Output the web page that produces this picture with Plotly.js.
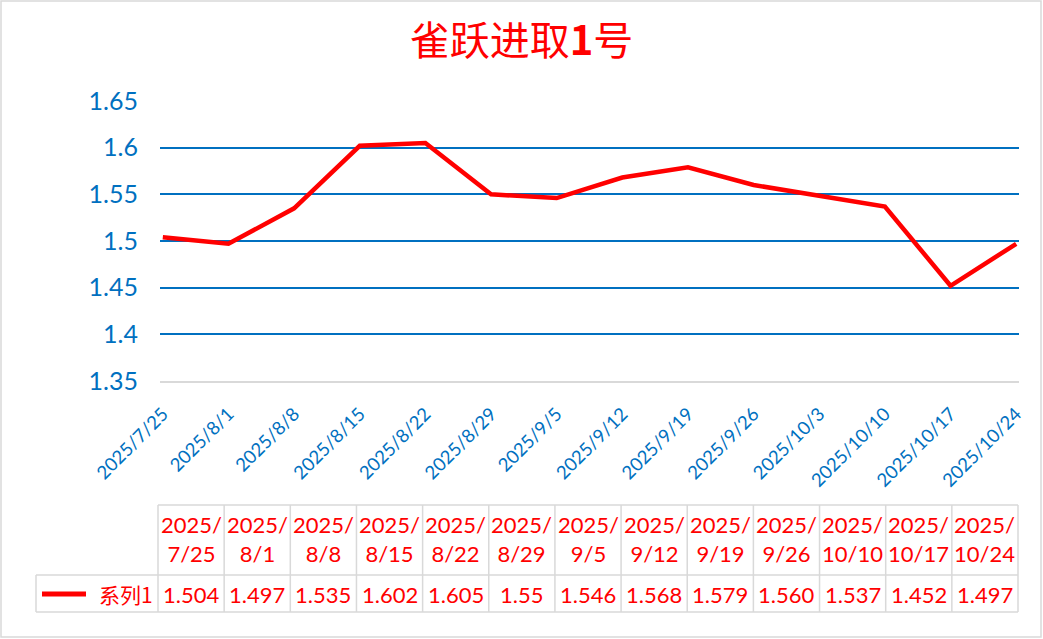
<!DOCTYPE html>
<html>
<head>
<meta charset="utf-8">
<script src="https://cdn.plot.ly/plotly-3.0.1.min.js"></script>
<style>
  html, body { margin: 0; padding: 0; background: #fff; }
  #chart { width: 1043px; height: 639px; }
</style>
</head>
<body>
<div id="chart"></div>
<script>
// ---- data ----
const seriesName = "系列1";
const dates = ["2025-07-25","2025-08-01","2025-08-08","2025-08-15","2025-08-22","2025-08-29","2025-09-05","2025-09-12","2025-09-19","2025-09-26","2025-10-10","2025-10-17","2025-10-24"];
const values = [1.504, 1.497, 1.535, 1.602, 1.605, 1.55, 1.546, 1.568, 1.579, 1.560, 1.537, 1.452, 1.497];
const valueLabels = ["1.504","1.497","1.535","1.602","1.605","1.55","1.546","1.568","1.579","1.560","1.537","1.452","1.497"];
const tickDates = ["2025-07-25","2025-08-01","2025-08-08","2025-08-15","2025-08-22","2025-08-29","2025-09-05","2025-09-12","2025-09-19","2025-09-26","2025-10-03","2025-10-10","2025-10-17","2025-10-24"];
const tickLabels = ["2025/7/25","2025/8/1","2025/8/8","2025/8/15","2025/8/22","2025/8/29","2025/9/5","2025/9/12","2025/9/19","2025/9/26","2025/10/3","2025/10/10","2025/10/17","2025/10/24"];
const yTicks = [1.35, 1.4, 1.45, 1.5, 1.55, 1.6, 1.65];
const yTickText = ["1.35","1.4","1.45","1.5","1.55","1.6","1.65"];

// ---- styles ----
const RED = "#FF0000";
const BLUE = "#0070C0";
const GRAY = "#D9D9D9";
const LATIN = "Lato, 'Noto Sans', sans-serif";
const CJK = "'Noto Sans CJK SC', sans-serif";

const W = 1043, H = 639;
const M = { l: 160, r: 24, t: 101, b: 258 };
const plotW = W - M.l - M.r, plotH = H - M.t - M.b;
// pixel -> paper helpers (layout only)
const px = v => (v - M.l) / plotW;
const py = v => (H - M.b - v) / plotH;

function shiftDay(s, d) {
  const t = new Date(Date.parse(s + "T00:00:00Z") + d * 86400000);
  return t.toISOString().slice(0, 19).replace("T", " ");
}

const trace = {
  type: "scatter",
  mode: "lines",
  x: dates,
  y: values,
  name: seriesName,
  line: { color: RED, width: 4.5 },
  hoverinfo: "x+y",
  showlegend: false
};

// data table geometry
const nCols = dates.length;
const tLeft = 158, tRight = 1018;
const colW = (tRight - tLeft) / nCols;
const colX = i => px(tLeft + i * colW);
const yTop = py(505), yMid = py(575), yBot = py(612);
const yHead = py(539), yVal = py(594);
const legLeft = px(36);

const shapes = [];
const annotations = [];
const border = { color: GRAY, width: 1.5 };
shapes.push({ type: "line", xref: "paper", yref: "paper", x0: colX(0), x1: colX(nCols), y0: yTop, y1: yTop, line: border });
shapes.push({ type: "line", xref: "paper", yref: "paper", x0: legLeft, x1: colX(nCols), y0: yMid, y1: yMid, line: border });
shapes.push({ type: "line", xref: "paper", yref: "paper", x0: legLeft, x1: colX(nCols), y0: yBot, y1: yBot, line: border });
shapes.push({ type: "line", xref: "paper", yref: "paper", x0: legLeft, x1: legLeft, y0: yMid, y1: yBot, line: border });
for (let i = 0; i <= nCols; i++) {
  shapes.push({ type: "line", xref: "paper", yref: "paper", x0: colX(i), x1: colX(i), y0: yTop, y1: yBot, line: border });
}
// legend key line
shapes.push({ type: "line", xref: "paper", yref: "paper", x0: px(42), x1: px(86), y0: yVal, y1: yVal, line: { color: RED, width: 5 } });
// outer frame
shapes.push({ type: "rect", xref: "paper", yref: "paper", x0: px(1), x1: px(1041), y0: py(637), y1: py(1), line: { color: GRAY, width: 1.5 }, layer: "below" });

dates.forEach((d, i) => {
  const parts = d.split("-");
  const head = parts[0] + "/<br>" + parseInt(parts[1]) + "/" + parseInt(parts[2]);
  const cx = (colX(i) + colX(i + 1)) / 2;
  annotations.push({ xref: "paper", yref: "paper", x: cx, y: yHead, text: head, showarrow: false,
    font: { family: LATIN, size: 22, color: RED }, xanchor: "center", yanchor: "middle", align: "center" });
  annotations.push({ xref: "paper", yref: "paper", x: cx, y: yVal, text: valueLabels[i], showarrow: false,
    font: { family: LATIN, size: 22, color: RED }, xanchor: "center", yanchor: "middle" });
});
annotations.push({ xref: "paper", yref: "paper", x: px(155), y: yVal, text: seriesName, showarrow: false,
  font: { family: CJK, size: 21, color: RED }, xanchor: "right", yanchor: "middle" });

const layout = {
  width: W,
  height: H,
  margin: M,
  paper_bgcolor: "#fff",
  plot_bgcolor: "#fff",
  title: {
    text: "雀跃进取<b>1</b>号",
    font: { family: CJK, size: 40, color: RED },
    x: 0.5, xanchor: "center", xref: "container",
    y: 1 - 41 / H, yanchor: "middle", yref: "container"
  },
  xaxis: {
    type: "date",
    range: [shiftDay(dates[0], -0.3), shiftDay(dates[dates.length - 1], 0.3)],
    tickmode: "array",
    tickvals: tickDates,
    ticktext: tickLabels,
    tickangle: -45,
    tickfont: { family: LATIN, size: 18.5, color: BLUE },
    showgrid: false,
    showline: true,
    linecolor: GRAY,
    linewidth: 2,
    ticks: "outside",
    ticklen: 13,
    tickcolor: "rgba(0,0,0,0)",
    zeroline: false,
    fixedrange: true
  },
  yaxis: {
    range: [1.35, 1.65],
    tickmode: "array",
    tickvals: yTicks,
    ticktext: yTickText,
    tickfont: { family: LATIN, size: 25, color: BLUE },
    showgrid: true,
    gridcolor: BLUE,
    gridwidth: 2,
    zeroline: false,
    showline: false,
    ticks: "outside",
    ticklen: 16,
    tickcolor: "rgba(0,0,0,0)",
    fixedrange: true
  },
  shapes: shapes,
  annotations: annotations,
  showlegend: false
};

Plotly.newPlot("chart", [trace], layout, { displayModeBar: false, staticPlot: true });
</script>
</body>
</html>
